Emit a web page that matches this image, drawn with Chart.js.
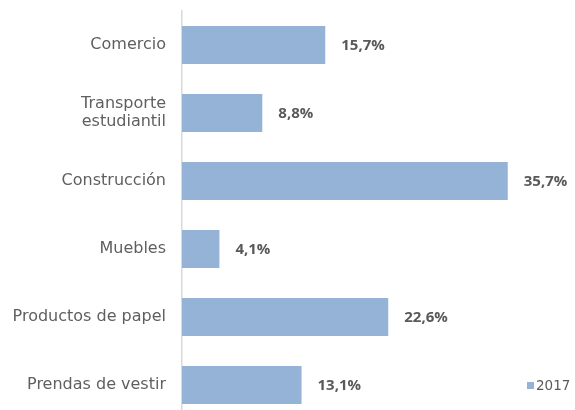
<!DOCTYPE html>
<html><head><meta charset="utf-8">
<script src="https://cdn.jsdelivr.net/npm/chart.js@4"></script>
<style>html,body{margin:0;padding:0;overflow:hidden;background:#fff;width:575px;height:410px}#w{position:relative;width:575px;height:440px}</style>
</head><body><div id="w"><canvas id="c" width="575" height="440"></canvas></div>
<script>
const categories = ["Comercio", ["Transporte", "estudiantil"], "Construcción", "Muebles", "Productos de papel", "Prendas de vestir"];
const values2017 = [15.7, 8.8, 35.7, 4.1, 22.6, 13.1];
const seriesName = "2017";
const FONT = "'DejaVu Sans', sans-serif";
const BOLDFONT = "'Open Sans', sans-serif";
const TXT = "#595959";
const BAR = "#95B3D7";

const labelPlugin = {
  id: 'valLabels',
  afterDatasetsDraw(chart) {
    const ctx = chart.ctx;
    const meta = chart.getDatasetMeta(0);
    ctx.save();
    ctx.font = "bold 15px " + BOLDFONT;
    ctx.fillStyle = TXT;
    ctx.textAlign = 'left';
    ctx.textBaseline = 'middle';
    meta.data.forEach((el, i) => {
      const t = values2017[i].toFixed(1).replace('.', ',') + '%';
      ctx.fillText(t, el.x + 16, el.y + 1);
    });
    // legend
    const ds = chart.data.datasets[0];
    const y = meta.data[meta.data.length - 1].y + 1;
    ctx.fillStyle = ds.backgroundColor;
    ctx.fillRect(527, y - 4, 7, 7);
    ctx.font = "13.5px " + FONT;
    ctx.fillStyle = TXT;
    ctx.fillText(ds.label, 536, y);
    ctx.restore();
  }
};

new Chart(document.getElementById('c'), {
  type: 'bar',
  data: {
    labels: categories,
    datasets: [{ label: seriesName, data: values2017, backgroundColor: BAR, borderWidth: 0,
      barPercentage: 0.56, categoryPercentage: 1.0 }]
  },
  options: {
    indexAxis: 'y',
    responsive: false,
    animation: false,
    layout: { padding: { top: 11, right: 28, bottom: 21, left: 0 } },
    plugins: { legend: { display: false }, tooltip: { enabled: false } },
    scales: {
      x: { display: false, min: 0, max: 40 },
      y: {
        grid: { display: true, color: 'transparent', drawOnChartArea: false, drawTicks: true, tickLength: 16 },
        border: { display: true, color: '#d9d9d9', width: 1.5 },
        ticks: { color: '#5f5f5f', font: { family: FONT, size: 16, lineHeight: 1.15 }, padding: 0, crossAlign: 'near' },
        afterFit(scale) { scale.width = 182; }
      }
    }
  },
  plugins: [labelPlugin]
});
</script></body></html>
